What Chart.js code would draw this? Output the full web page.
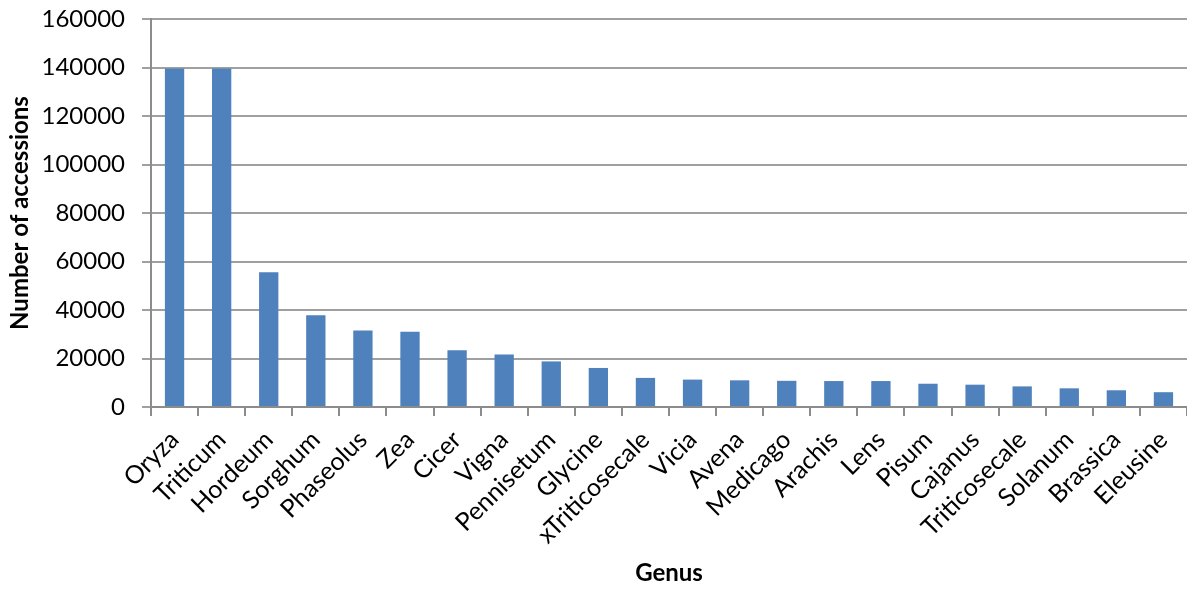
<!DOCTYPE html>
<html>
<head>
<meta charset="utf-8">
<script src="https://cdn.jsdelivr.net/npm/chart.js@4"></script>
<style>
  html, body { margin: 0; padding: 0; background: #fff; }
  #wrap { width: 1187px; height: 590px; }
</style>
</head>
<body>
<div id="wrap"><canvas id="genus"></canvas></div>
<script>
const genera = ['Oryza', 'Triticum', 'Hordeum', 'Sorghum', 'Phaseolus', 'Zea', 'Cicer', 'Vigna',
  'Pennisetum', 'Glycine', 'xTriticosecale', 'Vicia', 'Avena', 'Medicago', 'Arachis', 'Lens',
  'Pisum', 'Cajanus', 'Triticosecale', 'Solanum', 'Brassica', 'Eleusine']
const accessions = [139600, 139600, 55600, 37800, 31500, 31000, 23400, 21700,
  18800, 16100, 12000, 11300, 11000, 10800, 10700, 10700,
  9600, 9200, 8500, 7700, 6900, 6100]
const yTicks = [0, 20000, 40000, 60000, 80000, 100000, 120000, 140000, 160000]

const font = 'Lato, "Open Sans", sans-serif'

new Chart(
  document.getElementById('genus'),
  {
    type: 'bar',
    data: {
      labels: genera,
      datasets: [
        {
          label: 'Number of accessions',
          data: accessions,
          backgroundColor: '#4f81bd',
          categoryPercentage: 1,
          barPercentage: 0.41
        }
      ]
    },
    options: {
      responsive: true,
      maintainAspectRatio: false,
      animation: false,
      layout: { padding: 0 },
      plugins: {
        legend: { display: false },
        tooltip: { enabled: false }
      },
      scales: {
        x: {
          grid: { drawOnChartArea: false, drawTicks: true, tickLength: 9, color: '#8c8c8c', lineWidth: 2 },
          border: { color: '#8c8c8c', width: 2 },
          ticks: {
            color: '#000',
            font: { family: font, size: 25 },
            minRotation: 45,
            maxRotation: 45,
            autoSkip: false,
            padding: 9
          },
          title: {
            display: true,
            text: 'Genus',
            color: '#000',
            font: { family: font, size: 24, weight: 'bold' },
            padding: { top: 0, bottom: 2 }
          },
          afterFit: (scale) => {
            scale.height = 183
            scale.paddingRight = 0
          }
        },
        y: {
          min: 0,
          max: 160000,
          afterBuildTicks: (scale) => { scale.ticks = yTicks.map(v => ({ value: v })) },
          grid: { color: '#a0a0a0', lineWidth: 2, tickLength: 9 },
          border: { color: '#8c8c8c', width: 2 },
          ticks: {
            color: '#000',
            font: { family: font, size: 24 },
            padding: 17,
            callback: (v) => String(v)
          },
          title: {
            display: true,
            text: 'Number of accessions',
            color: '#000',
            font: { family: font, size: 24, weight: 'bold' },
            padding: { top: 6, bottom: 0 }
          },
          afterFit: (scale) => {
            scale.width = 151
            scale.paddingTop = 19
            scale.paddingBottom = 0
          }
        }
      }
    }
  }
);
</script>
</body>
</html>
